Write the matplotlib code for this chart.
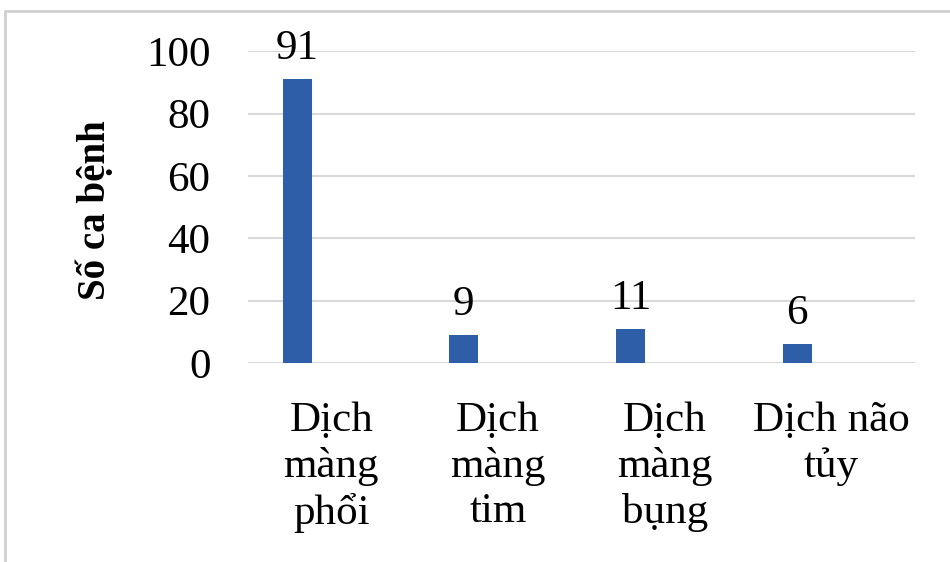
import numpy as np
import matplotlib.pyplot as plt
from matplotlib.patches import Rectangle

# số liệu
loai_dich = ['Dịch\nmàng\nphổi', 'Dịch\nmàng\ntim', 'Dịch\nmàng\nbụng', 'Dịch não\ntủy']
so_ca = [91, 9, 11, 6]

plt.rcParams['font.family'] = ['Liberation Serif', 'DejaVu Serif']

fig = plt.figure(figsize=(9.5, 5.62), dpi=100)
ax = fig.add_axes([0.261, 0.354, 0.702, 0.555])

vi_tri = np.arange(len(loai_dich))
do_lech = -0.205
rong = 0.174
cot = ax.bar(vi_tri + do_lech, so_ca, width=rong, color='#2f5ea8', zorder=3)

for c in cot:
    h = c.get_height()
    ax.annotate(f'{h:.0f}', (c.get_x() + c.get_width() / 2, h),
                xytext=(0, 8), textcoords='offset points',
                ha='center', va='bottom', fontsize=31)

ax.set_xlim(-0.5, len(loai_dich) - 0.5)
ax.set_ylim(0, 100)
ax.set_yticks([0, 20, 40, 60, 80, 100])
ax.set_xticks(vi_tri)
ax.set_xticklabels(loai_dich, fontsize=31, linespacing=1.22)
ax.tick_params(axis='y', labelsize=31, length=0, pad=27)
ax.tick_params(axis='x', length=0, pad=28)

ax.grid(axis='y', color='#d9d9d9', linewidth=1.5, zorder=0)
for s in ax.spines.values():
    s.set_visible(False)

ax.set_ylabel('Số ca bệnh', fontsize=28, fontweight='bold', va='center')
ax.yaxis.set_label_coords(-0.229, 0.49)

# khung viền
fig.patches.append(Rectangle((5 / 950, -0.05), 1.1, 1.05 - 11 / 562,
                             transform=fig.transFigure, fill=False,
                             edgecolor='#d0d0d0', linewidth=2))

plt.savefig('out.png', dpi=100)
